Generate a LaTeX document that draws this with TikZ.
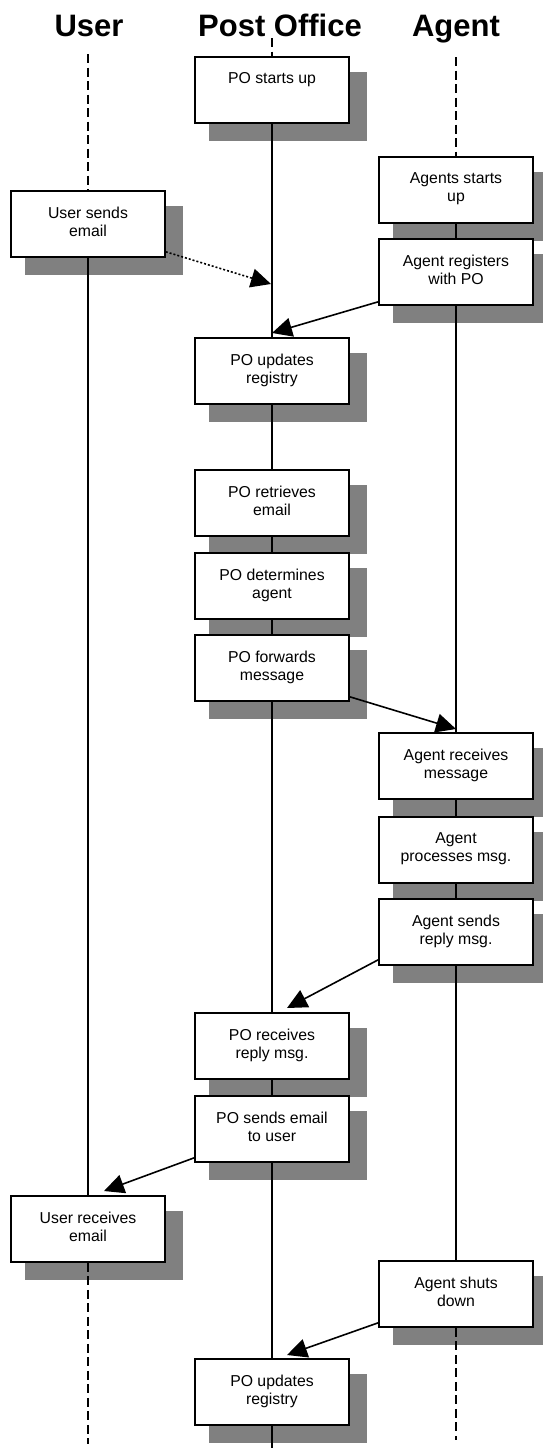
\documentclass[tikz,border=0pt]{standalone}
\usepackage{fontspec}
\setmainfont{Liberation Sans}
\usetikzlibrary{arrows.meta}
\pgfdeclarelayer{shadowlayer}
\pgfdeclarelayer{lifelayer}
\pgfsetlayers{shadowlayer,lifelayer,main}
\definecolor{shadegray}{HTML}{808080}
\tikzset{
  box/.style={draw=black, line width=1.6pt, fill=white, minimum width=154pt, minimum height=66pt,
    inner sep=0pt, align=center, font=\fontsize{15.8}{18}\selectfont,
    execute at begin node=\strut, execute at end node=\strut},
  title/.style={font=\fontsize{31}{36}\selectfont\bfseries, anchor=base, inner sep=0pt},
  life/.style={line width=1.6pt},
  lifedash/.style={line width=1.6pt, dash pattern=on 9pt off 4.5pt},
  msg/.style={line width=1.6pt, -{Triangle[length=20pt,width=19pt]}},
  msgdot/.style={line width=1.6pt, dash pattern=on 2pt off 2pt, -{Triangle[length=20pt,width=19pt]}},
  shade/.style={fill=shadegray}
}
\begin{document}
\begin{tikzpicture}[x=1pt,y=-1pt]
\useasboundingbox (0,0) rectangle (542,1448);
\clip (0,0) rectangle (542,1448);

% titles
\node[title] (tUser) at (89,36) {User};
\node[title] (tPO) at (280,36) {Post Office};
\node[title] (tAgent) at (456,36) {Agent};

% boxes
\node[box] (p1) at (272,90) {PO starts up\\};
\node[box] (p2) at (272,371) {PO updates\\registry};
\node[box] (p3) at (272,503) {PO retrieves\\email};
\node[box] (p4) at (272,586) {PO determines\\agent};
\node[box] (p5) at (272,668) {PO forwards\\message};
\node[box] (p6) at (272,1046) {PO receives\\reply msg.};
\node[box] (p7) at (272,1129) {PO sends email\\to user};
\node[box] (p8) at (272,1392) {PO updates\\registry};
\node[box] (a1) at (456,190) {Agents starts\\up};
\node[box] (a2) at (456,272) {Agent registers\\with PO};
\node[box] (a3) at (456,766) {Agent receives\\message};
\node[box] (a4) at (456,850) {Agent\\processes msg.};
\node[box] (a5) at (456,932) {Agent sends\\reply msg.};
\node[box] (a6) at (456,1294) {Agent shuts\\down};
\node[box] (u1) at (88,224) {User sends\\email};
\node[box] (u2) at (88,1229) {User receives\\email};

% shadows
\begin{pgfonlayer}{shadowlayer}
\foreach \b in {p1,p2,p3,p4,p5,p6,p7,p8,a1,a2,a3,a4,a5,a6,u1,u2}{
  \fill[shade] ([xshift=15pt,yshift=-16pt]\b.north west) rectangle ([xshift=17pt,yshift=-17pt]\b.south east);
}
\end{pgfonlayer}

% lifelines
\coordinate (uTop) at (88,54);
\coordinate (uBot) at (88,1444);
\coordinate (pTop) at (272,38);
\coordinate (pBot) at (272,1448);
\coordinate (aTop) at (456,57);
\coordinate (aBot) at (456,1440);
\begin{pgfonlayer}{lifelayer}
\draw[lifedash] (uTop) -- (u1.north);
\draw[life] (u1.south) -- (u2.north);
\draw[lifedash] (u2.south) -- (uBot);
\draw[lifedash] (pTop) -- (p1.north);
\draw[life] (p1.south) -- (pBot);
\draw[lifedash] (aTop) -- (a1.north);
\draw[life] (a1.south) -- (a6.north);
\draw[lifedash] (a6.south) -- (aBot);
\end{pgfonlayer}

% message tips
\coordinate (t1) at (271,284);
\coordinate (t2) at (272,333);
\coordinate (t3) at (456,729);
\coordinate (t4) at (287,1008);
\coordinate (t5) at (104,1191);
\coordinate (t6) at (287,1355);

\draw[msgdot] ([yshift=6pt]u1.south east) -- (t1);
\draw[msg] ([yshift=4pt]a2.south west) -- (t2);
\draw[msg] ([yshift=5pt]p5.south east) -- (t3);
\draw[msg] ([yshift=6pt]a5.south west) -- (t4);
\draw[msg] ([yshift=5pt]p7.south west) -- (t5);
\draw[msg] ([yshift=5pt]a6.south west) -- (t6);
\end{tikzpicture}
\end{document}
